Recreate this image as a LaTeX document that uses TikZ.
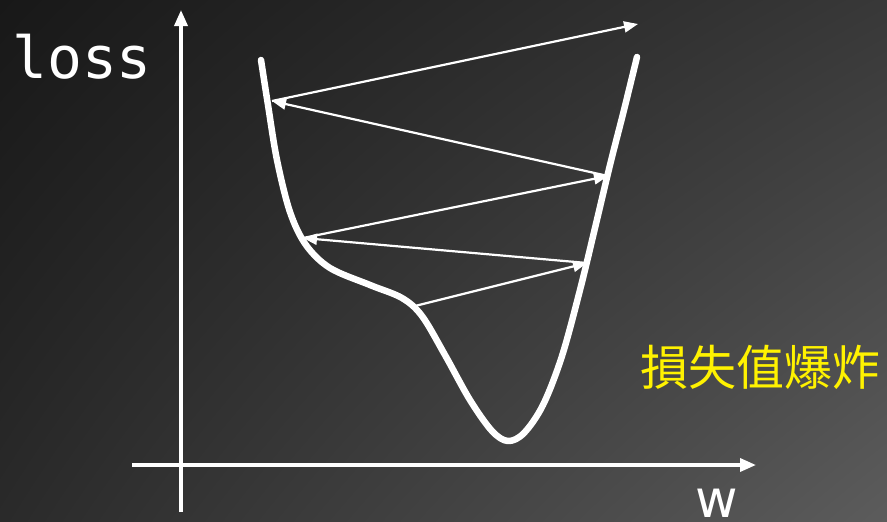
\documentclass[tikz,border=0pt]{standalone}
\usepackage{fontspec}
\newfontfamily\cjkf{Noto Sans CJK TC}
\newfontfamily\monof{DejaVu Sans Mono}
\newfontfamily\sansf{DejaVu Sans}
\usetikzlibrary{arrows.meta,shadings}
\definecolor{bgUL}{HTML}{181818}
\definecolor{bgUR}{HTML}{383838}
\definecolor{bgLL}{HTML}{2A2A2A}
\definecolor{bgLR}{HTML}{5C5C5C}
\begin{document}
\begin{tikzpicture}[x=1pt,y=-1pt,
  axis/.style={white,line width=3.5pt,-{Triangle[length=16pt,width=13pt]}},
  curve/.style={white,line width=6.5pt,line cap=round,line join=round},
  jump/.style={white,line width=2.2pt,-{Triangle[length=14pt,width=11pt]}},
  lbl/.style={white,inner sep=0pt}]
\useasboundingbox (0,0) rectangle (887,522);
\shade[upper left=bgUL,upper right=bgUR,lower left=bgLL,lower right=bgLR] (0,0) rectangle (887,522);
% axes
\coordinate (yb) at (181,512);
\coordinate (yt) at (181,10);
\coordinate (xl) at (132,465);
\coordinate (xr) at (756,465);
\draw[axis] (yb) -- (yt);
\draw[axis] (xl) -- (xr);
% curve
\draw[curve] plot[smooth,tension=0.55] coordinates {(261,60) (268,105) (277,160) (290,212) (306,245) (330,268) (370,285) (402,298) (422,316) (445,355) (470,400) (492,431) (508,441) (524,433) (543,405) (562,356) (580,290) (595,228) (610,165) (624,110) (637,57)};
% jump points
\coordinate (p0) at (415,306);
\coordinate (p1) at (587,263);
\coordinate (p2) at (303,238);
\coordinate (p3) at (608,176);
\coordinate (p4) at (272,101);
\coordinate (p5) at (638,24);
\draw[jump] (p0) -- (p1);
\draw[jump] (p1) -- (p2);
\draw[jump] (p2) -- (p3);
\draw[jump] (p3) -- (p4);
\draw[jump] (p4) -- (p5);
% labels
\node[lbl,anchor=base west] (loss) at (12,78) {\monof\fontsize{58}{62}\selectfont loss};
\node[lbl,anchor=base] (w) at (717,517) {\sansf\fontsize{52}{60}\selectfont w};
\node[lbl,anchor=west,text=yellow] (boom) at (640,367) {\cjkf\fontsize{48}{50}\selectfont 損失值爆炸};
\end{tikzpicture}
\end{document}
